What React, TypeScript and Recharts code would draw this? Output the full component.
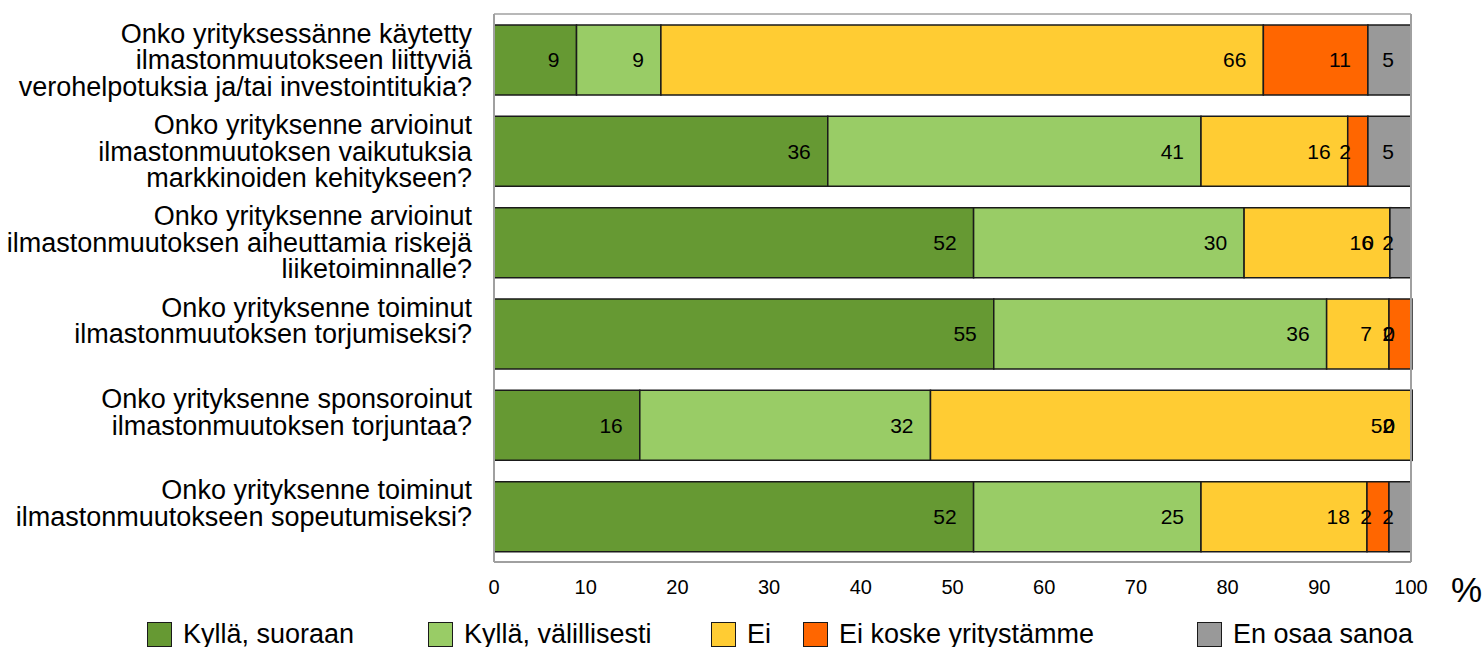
import React from "react";
import {
  BarChart, Bar, XAxis, YAxis, LabelList, Legend, ReferenceLine, Label,
} from "recharts";

const categories = [
  "Onko yrityksessänne käytetty\nilmastonmuutokseen liittyviä\nverohelpotuksia ja/tai investointitukia?",
  "Onko yrityksenne arvioinut\nilmastonmuutoksen vaikutuksia\nmarkkinoiden kehitykseen?",
  "Onko yrityksenne arvioinut\nilmastonmuutoksen aiheuttamia riskejä\nliiketoiminnalle?",
  "Onko yrityksenne toiminut\nilmastonmuutoksen torjumiseksi?",
  "Onko yrityksenne sponsoroinut\nilmastonmuutoksen torjuntaa?",
  "Onko yrityksenne toiminut\nilmastonmuutokseen sopeutumiseksi?",
];

// shares in %, labels show rounded values
const suoraan = [9.0, 36.4, 52.3, 54.5, 15.9, 52.3];
const valillisesti = [9.2, 40.7, 29.5, 36.3, 31.7, 24.8];
const ei = [65.7, 16.0, 15.9, 6.8, 52.4, 18.1];
const eiKoske = [11.4, 2.2, 0, 2.4, 0, 2.4];
const enOsaa = [4.7, 4.7, 2.3, 0, 0, 2.4];

const xTicks = [0, 10, 20, 30, 40, 50, 60, 70, 80, 90, 100];

const series = [
  { key: "suoraan", name: "Kyllä, suoraan", color: "#669933" },
  { key: "valillisesti", name: "Kyllä, välillisesti", color: "#99CC66" },
  { key: "ei", name: "Ei", color: "#FFCC33" },
  { key: "eiKoske", name: "Ei koske yritystämme", color: "#FF6600" },
  { key: "enOsaa", name: "En osaa sanoa", color: "#999999" },
];

const legendLeft = [147, 428, 711, 803, 1197];

const FONT = "'Liberation Sans', Arial, sans-serif";

const data = categories.map((c, i) => ({
  name: c,
  suoraan: suoraan[i],
  valillisesti: valillisesti[i],
  ei: ei[i],
  eiKoske: eiKoske[i],
  enOsaa: enOsaa[i],
}));

function CategoryTick({ x, y, payload }: any) {
  const lines = String(payload.value).split("\n");
  return (
    <text x={x} y={y} textAnchor="end" fontSize={27} fill="#000" fontFamily={FONT}>
      {lines.map((l, i) => (
        <tspan key={i} x={x} dy={i === 0 ? -17 : 26.5}>{l}</tspan>
      ))}
    </text>
  );
}

function LegendBox() {
  return (
    <div style={{ position: "relative", width: 1483, height: 30, fontFamily: FONT }}>
      {series.map((s, i) => (
        <div
          key={s.key}
          style={{ position: "absolute", left: legendLeft[i], top: 2, display: "flex", alignItems: "center", whiteSpace: "nowrap" }}
        >
          <span style={{ display: "inline-block", width: 23, height: 23, background: s.color, border: "1.5px solid #1a1a1a", marginRight: 11 }} />
          <span style={{ fontSize: 27, color: "#000" }}>{s.name}</span>
        </div>
      ))}
    </div>
  );
}

export default function App() {
  return (
    <div style={{ position: "absolute", left: 0, top: 0, width: 1483, height: 647, background: "#fff", fontFamily: FONT }}>
      <BarChart
        width={1483}
        height={647}
        data={data}
        layout="vertical"
        margin={{ top: 10, right: 72, bottom: 0, left: 0 }}
        barSize={70}
      >
        <XAxis
          type="number"
          domain={[0, 100]}
          ticks={xTicks}
          interval={0}
          height={55}
          tick={{ fill: "#000", fontSize: 20, fontFamily: FONT }}
          tickLine={false}
          tickSize={0}
          tickMargin={18}
          axisLine={{ stroke: "#a0a0a0", strokeWidth: 2 }}
        >
          <Label value="%" position="right" offset={40} fontSize={35} fill="#000" fontFamily={FONT} />
        </XAxis>
        <XAxis
          xAxisId="top"
          orientation="top"
          type="number"
          domain={[0, 100]}
          height={4}
          tick={false}
          tickLine={false}
          axisLine={{ stroke: "#a0a0a0", strokeWidth: 1.5 }}
        />
        <YAxis
          type="category"
          dataKey="name"
          width={494}
          tick={<CategoryTick />}
          tickLine={false}
          tickSize={0}
          tickMargin={22}
          interval={0}
          axisLine={{ stroke: "#a0a0a0", strokeWidth: 2 }}
        />
        <ReferenceLine x={100} stroke="#a0a0a0" strokeWidth={2} />
        {series.map((s) => (
          <Bar
            key={s.key}
            dataKey={s.key}
            name={s.name}
            stackId="a"
            fill={s.color}
            stroke="#1a1a1a"
            strokeWidth={1.5}
            minPointSize={1}
            isAnimationActive={false}
          >
            <LabelList
              dataKey={s.key}
              position="insideRight"
              offset={17}
              fontSize={21}
              fill="#000"
              fontFamily={FONT}
              formatter={(v: any) => Math.round(Number(v))}
            />
          </Bar>
        ))}
        <Legend verticalAlign="bottom" content={<LegendBox />} />
      </BarChart>
    </div>
  );
}
